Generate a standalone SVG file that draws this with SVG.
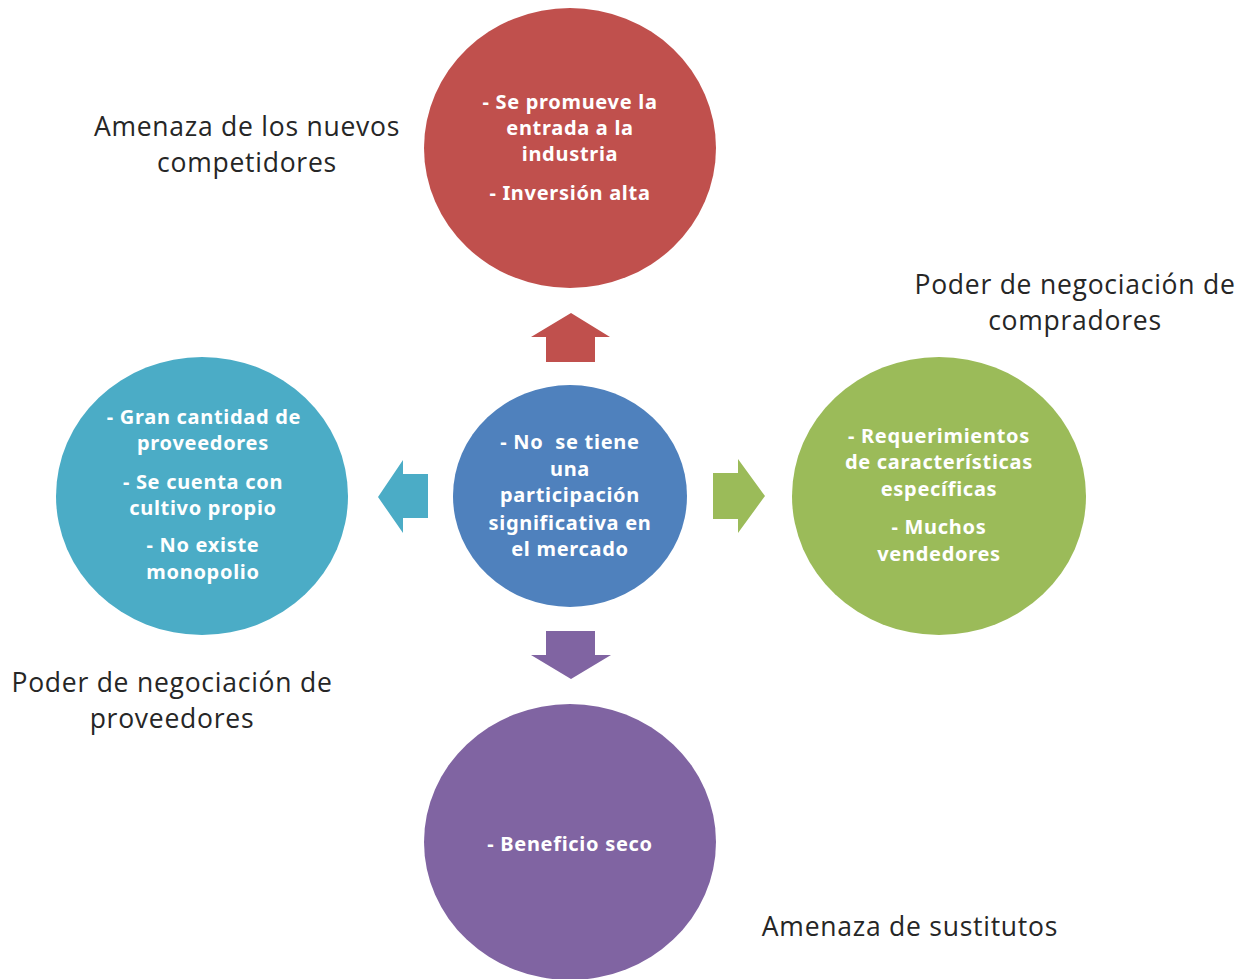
<svg xmlns="http://www.w3.org/2000/svg" width="1251" height="979" viewBox="0 0 1251 979">
<style>
.lbl{font-family:"Open Sans","Liberation Sans",sans-serif;font-size:26.5px;letter-spacing:0.75px;fill:#262626;text-anchor:middle}
.in{font-family:"Noto Sans","Liberation Sans",sans-serif;font-weight:bold;font-size:20px;letter-spacing:0.7px;fill:#ffffff;text-anchor:middle}
</style>
<rect width="1251" height="979" fill="#ffffff"/>
<g id="connectors">
<polygon id="arrow-up" points="571,313 610,337 595,337 595,362 546,362 546,337 531,337" fill="#C0504D"/>
<polygon id="arrow-down" points="546,631 595,631 595,655 611,655 571,679 531,655 546,655" fill="#8064A2"/>
<polygon id="arrow-right" points="713,473 738,473 738,459 765,496 738,533 738,519 713,519" fill="#9BBB59"/>
<polygon id="arrow-left" points="428,474 403,474 403,460 378,497 403,533 403,518 428,518" fill="#4BACC6"/>
</g>
<g id="node-top">
<ellipse cx="570" cy="148" rx="146" ry="140" fill="#C0504D"/>
<text class="in" x="570" y="109">- Se promueve la</text>
<text class="in" x="570" y="135">entrada a la</text>
<text class="in" x="570" y="161">industria</text>
<text class="in" x="570" y="200">- Inversión alta</text>
</g>
<g id="node-center">
<ellipse cx="570" cy="496" rx="117" ry="111" fill="#4F81BD"/>
<text class="in" x="570" y="449" xml:space="preserve">- No  se tiene</text>
<text class="in" x="570" y="476">una</text>
<text class="in" x="570" y="502">participación</text>
<text class="in" x="570" y="530">significativa en</text>
<text class="in" x="570" y="556">el mercado</text>
</g>
<g id="node-left">
<ellipse cx="202" cy="496" rx="146" ry="139" fill="#4BACC6"/>
<text class="in" x="204" y="424">- Gran cantidad de</text>
<text class="in" x="203" y="450">proveedores</text>
<text class="in" x="203" y="489">- Se cuenta con</text>
<text class="in" x="203" y="515">cultivo propio</text>
<text class="in" x="203" y="552">- No existe</text>
<text class="in" x="203" y="579">monopolio</text>
</g>
<g id="node-right">
<ellipse cx="939" cy="496" rx="147" ry="139" fill="#9BBB59"/>
<text class="in" x="939" y="443">- Requerimientos</text>
<text class="in" x="939" y="469">de características</text>
<text class="in" x="939" y="496">específicas</text>
<text class="in" x="939" y="534">- Muchos</text>
<text class="in" x="939" y="561">vendedores</text>
</g>
<g id="node-bottom">
<ellipse cx="570" cy="842" rx="146" ry="138" fill="#8064A2"/>
<text class="in" x="570" y="851">- Beneficio seco</text>
</g>
<g id="labels">
<text class="lbl" x="247" y="136">Amenaza de los nuevos</text>
<text class="lbl" x="247" y="172">competidores</text>
<text class="lbl" x="1075" y="294">Poder de negociación de</text>
<text class="lbl" x="1075" y="330">compradores</text>
<text class="lbl" x="172" y="692">Poder de negociación de</text>
<text class="lbl" x="172" y="728">proveedores</text>
<text class="lbl" x="910" y="936">Amenaza de sustitutos</text>
</g>
</svg>
